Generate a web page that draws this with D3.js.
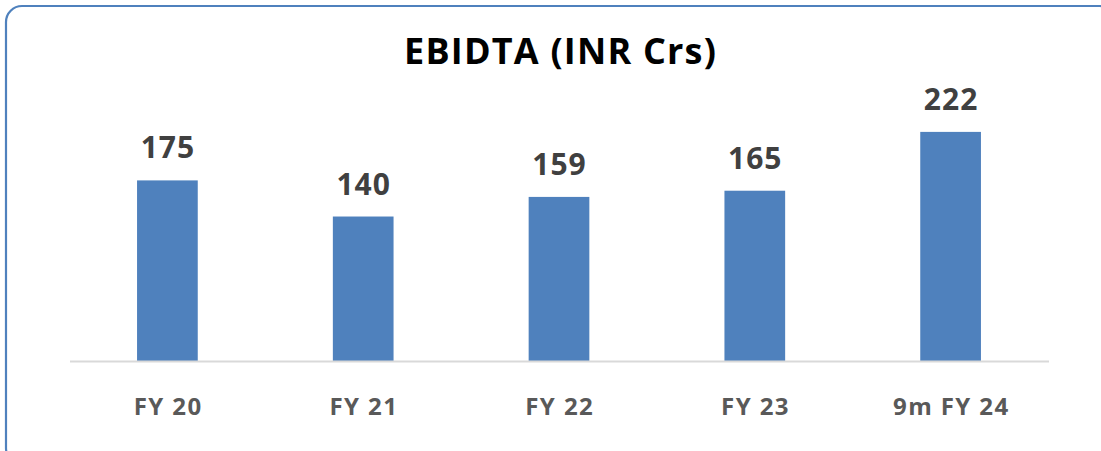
<!DOCTYPE html>
<html><head><meta charset="utf-8">
<script src="https://cdn.jsdelivr.net/npm/d3@7"></script>
<style>html,body{margin:0;padding:0;background:#fff;}svg{display:block;}</style>
</head><body>
<script>
const categories = ["FY 20", "FY 21", "FY 22", "FY 23", "9m FY 24"];
const values = [175, 140, 159, 165, 222];
const title = "EBIDTA (INR Crs)";

const W = 1101, H = 451;
const svg = d3.select("body").append("svg").attr("width", W).attr("height", H);
svg.append("rect").attr("width", W).attr("height", H).attr("fill", "#fff");
svg.append("rect").attr("x", 6).attr("y", 6).attr("width", 1110).attr("height", 458)
  .attr("rx", 16).attr("fill", "none").attr("stroke", "#4F81BD").attr("stroke-width", 2.2);

const x = d3.scaleBand().domain(categories).range([69.5, 1048.5]).paddingInner(0.69).paddingOuter(0.345);
const y = d3.scaleLinear().domain([0, 250]).range([361, 103]);

const font = "'Open Sans', 'Noto Sans', sans-serif";

svg.append("text").attr("x", 560).attr("y", 64).attr("dx", 0.6).attr("text-anchor", "middle")
  .attr("font-family", font).attr("font-weight", 700).attr("font-size", 36)
  .attr("letter-spacing", 1.2).attr("fill", "#000").text(title);

svg.selectAll("rect.bar").data(values).join("rect").attr("class", "bar")
  .attr("x", (d, i) => x(categories[i])).attr("width", x.bandwidth())
  .attr("y", d => y(d)).attr("height", d => y(0) - y(d)).attr("fill", "#4F81BD");

svg.selectAll("text.val").data(values).join("text").attr("class", "val")
  .attr("x", (d, i) => x(categories[i]) + x.bandwidth() / 2 + 0.5).attr("y", d => y(d) - 22)
  .attr("text-anchor", "middle").attr("font-family", font).attr("font-weight", 700)
  .attr("font-size", 30).attr("letter-spacing", 1).attr("fill", "#404040").text(d => d);

const axis = d3.axisBottom(x).tickSize(0).tickPadding(0);
const g = svg.append("g").attr("transform", `translate(0,${y(0)})`).call(axis);
g.select(".domain").attr("stroke", "#d9d9d9").attr("stroke-width", 2);
g.selectAll("text").attr("font-family", font).attr("font-weight", 700).attr("font-size", 24)
  .attr("letter-spacing", 1.4).attr("fill", "#595959").attr("dy", 0).attr("dx", 0.7).attr("y", 54);
</script>
</body></html>
